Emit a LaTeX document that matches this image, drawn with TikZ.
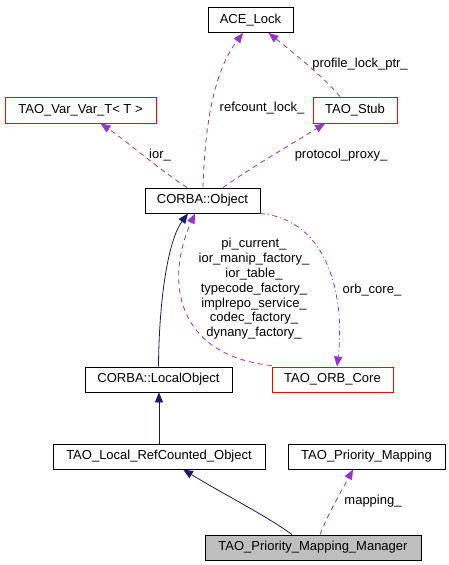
\documentclass[tikz,border=0pt]{standalone}
\usepackage{fontspec}
\setmainfont{Liberation Sans}
\usetikzlibrary{arrows.meta}
\definecolor{edgepurple}{HTML}{9A32CD}
\definecolor{edgenavy}{HTML}{191970}
\definecolor{boxgray}{HTML}{BFBFBF}
\tikzset{
  box/.style={draw=black, line width=0.9pt, minimum height=25pt, inner sep=0pt, font=\fontsize{13}{15}\selectfont},
  redbox/.style={box, draw=red},
  lbl/.style={font=\fontsize{13}{15}\selectfont, inner sep=0pt},
  usage/.style={draw=edgepurple, line width=0.8pt, dash pattern=on 5pt off 4pt, -{Triangle[length=10pt,width=8pt]}, arrows={-{Triangle[length=10pt,width=8pt,fill=edgepurple]}}},
  usagedd/.style={usage, dash pattern=on 5pt off 3pt on 1pt off 3pt},
  inherit/.style={draw=edgenavy, line width=0.8pt, -{Triangle[length=10pt,width=8pt,fill=edgenavy]}}
}
\begin{document}
\begin{tikzpicture}[x=1pt,y=-1pt]
\useasboundingbox[fill=white] (0,0) rectangle (448,565);
\node[box, minimum width=85pt] (lock) at (250.5,20) {ACE\_Lock};
\node[redbox, minimum width=151pt, minimum height=26pt] (var) at (80.5,110) {TAO\_Var\_Var\_T< T >};
\node[redbox, minimum width=84pt, minimum height=26pt] (stub) at (355,110) {TAO\_Stub};
\node[box, minimum width=115pt] (obj) at (202.5,200.5) {CORBA::Object};
\node[box, minimum width=147pt] (local) at (158.5,379.5) {CORBA::LocalObject};
\node[redbox, minimum width=121pt] (orb) at (332.5,379.5) {TAO\_ORB\_Core};
\node[box, minimum width=212pt] (refc) at (159,456.5) {TAO\_Local\_RefCounted\_Object};
\node[box, minimum width=157pt] (pmap) at (366.5,456.5) {TAO\_Priority\_Mapping};
\node[box, fill=boxgray, minimum width=216pt] (mgr) at (313,547.5) {TAO\_Priority\_Mapping\_Manager};

% usage edges
\draw[usage] ([xshift=0.5pt]obj.north) .. controls (205,120) and (215,70) .. ([xshift=-7.5pt]lock.south);
\node[lbl] (l1) at (262,108) {refcount\_lock\_};
\draw[usage] ([xshift=-15pt]stub.north) .. controls (325,78) and (290,50) .. ([xshift=18pt]lock.south);
\node[lbl] (l2) at (360,64) {profile\_lock\_ptr\_};
\draw[usage] ([xshift=-15.5pt]obj.north) .. controls (160,170) and (125,140) .. ([xshift=20pt]var.south);
\node[lbl] (l3) at (160,155) {ior\_};
\draw[usage] ([xshift=20.5pt]obj.north) .. controls (255,165) and (290,145) .. ([xshift=-30pt]stub.south);
\node[lbl] (l4) at (341,155) {protocol\_proxy\_};

% inheritance
\draw[inherit] (local.north) .. controls (159,300) and (168,240) .. ([xshift=-14.5pt]obj.south);
\draw[inherit] (refc.north) -- ([xshift=0.5pt]local.south);
\draw[inherit] ([xshift=-21pt]mgr.north) .. controls (265,515) and (225,495) .. ([xshift=24pt]refc.south);

% ORB core edges
\draw[usage] ([yshift=1pt]orb.north west) .. controls (175,355) and (165,280) .. ([xshift=-7.5pt]obj.south);
\node[lbl, align=center, font=\fontsize{13}{14.8}\selectfont] (l5) at (254,289) {pi\_current\_\\ior\_manip\_factory\_\\ior\_table\_\\typecode\_factory\_\\implrepo\_service\_\\codec\_factory\_\\dynany\_factory\_};
\draw[usagedd] (obj.south east) .. controls (330,220) and (345,300) .. ([xshift=4.5pt]orb.north);
\node[lbl] (l6) at (372,290) {orb\_core\_};

\draw[usage] ([xshift=7pt]mgr.north) .. controls (330,510) and (342,490) .. ([xshift=-13.5pt]pmap.south);
\node[lbl] (l7) at (373,501) {mapping\_};
\end{tikzpicture}
\end{document}
